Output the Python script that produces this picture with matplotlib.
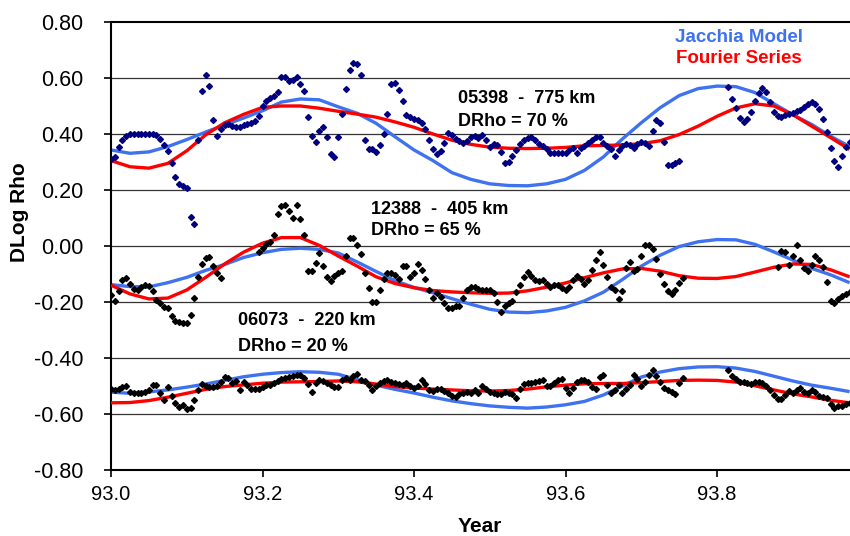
import numpy as np
import matplotlib
matplotlib.use("Agg")
import matplotlib.pyplot as plt

plt.rcParams['font.family'] = ['Liberation Sans', 'DejaVu Sans']

nan = np.nan

# daily-ish density samples, one value every 0.005 yr from 93.000
year = np.round(93.0 + 0.005 * np.arange(196), 3)

sat_05398 = [
    0.310, 0.318, 0.355, 0.380, 0.393, 0.400, 0.400, 0.400, 0.400, 0.400,
    0.400, 0.400, 0.395, 0.383, 0.360, 0.340, 0.296, 0.245, 0.220, 0.214,
    0.207, 0.104, 0.080, 0.380, 0.555, 0.610, 0.570, 0.450, 0.392, 0.418,
    0.432, 0.435, 0.429, 0.425, 0.426, 0.432, 0.436, 0.440, 0.445, 0.465,
    0.500, 0.518, 0.528, 0.537, 0.550, 0.605, 0.603, 0.590, 0.592, 0.604,
    0.580, 0.555, 0.461, 0.392, 0.370, 0.410, 0.425, 0.390, 0.330, 0.318,
    0.390, 0.470, 0.560, 0.630, 0.654, 0.650, 0.610, 0.380, 0.345, 0.346,
    0.337, 0.360, 0.400, 0.470, 0.580, 0.583, 0.558, 0.518, 0.468, 0.459,
    0.455, 0.451, 0.440, 0.418, 0.380, 0.345, 0.330, 0.340, 0.367, 0.402,
    0.396, 0.383, 0.375, 0.368, 0.374, 0.390, 0.392, 0.385, 0.396, 0.380,
    0.355, 0.364, 0.360, 0.335, 0.298, 0.300, 0.320, 0.343, 0.363, 0.377,
    0.387, 0.388, 0.378, 0.366, 0.356, 0.345, 0.332, 0.333, 0.331, 0.333,
    0.333, 0.342, 0.350, 0.333, 0.350, 0.357, 0.368, 0.378, 0.388, 0.390,
    0.368, 0.357, 0.345, 0.322, 0.343, 0.356, 0.365, 0.362, 0.350, 0.366,
    0.373, 0.369, 0.356, 0.410, 0.450, 0.440, 0.370, 0.290, 0.289, 0.298,
    0.303, nan, nan, nan, nan, nan, nan, nan, nan, nan,
    nan, nan, nan, 0.568, 0.525, 0.492, 0.458, 0.442, 0.452, 0.480,
    0.518, 0.545, 0.565, 0.550, 0.515, 0.480, 0.463, 0.462, 0.468, 0.472,
    0.475, 0.481, 0.486, 0.495, 0.508, 0.515, 0.508, 0.490, 0.452, 0.407,
    0.350, 0.305, 0.282, 0.322, 0.355, 0.373,
]

sat_12388 = [
    -0.175, -0.198, -0.160, -0.120, -0.115, -0.135, -0.152, -0.158, -0.147, -0.139,
    -0.142, -0.160, -0.192, -0.205, -0.217, -0.222, -0.250, -0.269, -0.271, -0.275,
    -0.276, -0.245, -0.185, -0.110, -0.066, -0.043, -0.038, -0.070, -0.098, -0.115,
    nan, nan, nan, nan, nan, nan, nan, nan, nan, -0.020,
    -0.008, 0.008, 0.016, 0.040, 0.115, 0.143, 0.147, 0.125, 0.100, 0.146,
    0.097, 0.040, -0.090, -0.090, -0.060, -0.024, -0.073, -0.110, -0.124, -0.106,
    -0.096, -0.090, -0.035, 0.028, 0.029, 0.005, -0.030, -0.095, -0.150, -0.200,
    -0.199, -0.158, -0.118, -0.098, -0.096, -0.104, -0.118, -0.070, -0.070, -0.110,
    -0.098, -0.066, -0.086, -0.118, -0.156, -0.186, -0.169, -0.183, -0.205, -0.222,
    -0.220, -0.215, -0.215, -0.187, -0.158, -0.148, -0.145, -0.152, -0.157, -0.156,
    -0.156, -0.168, -0.200, -0.236, -0.215, -0.202, -0.198, -0.165, -0.138, -0.109,
    -0.093, -0.106, -0.121, -0.125, -0.123, -0.137, -0.146, -0.139, -0.140, -0.149,
    -0.156, -0.145, -0.120, -0.108, -0.119, -0.134, -0.122, -0.087, -0.050, -0.022,
    -0.068, -0.110, -0.148, -0.158, -0.190, -0.159, -0.077, -0.058, -0.088, -0.082,
    -0.035, 0.004, 0.003, -0.012, -0.046, -0.100, -0.137, -0.160, -0.170, -0.157,
    -0.133, -0.115, nan, nan, nan, nan, nan, nan, nan, nan,
    nan, nan, nan, nan, nan, nan, nan, nan, nan, nan,
    nan, nan, nan, nan, nan, nan, -0.075, -0.018, -0.022, -0.068,
    -0.035, 0.002, -0.050, -0.078, -0.090, -0.068, -0.037, -0.050, -0.075, -0.130,
    -0.195, -0.202, -0.190, -0.180, -0.171, -0.166,
]

sat_06073 = [
    -0.512, -0.514, -0.512, -0.504, -0.501, -0.521, -0.524, -0.524, -0.524, -0.523,
    -0.513, -0.496, -0.498, -0.525, -0.549, -0.505, -0.537, -0.561, -0.575, -0.569,
    -0.581, -0.577, -0.550, -0.514, -0.494, -0.500, -0.502, -0.505, -0.499, -0.485,
    -0.468, -0.473, -0.490, -0.482, -0.515, -0.484, -0.495, -0.509, -0.512, -0.510,
    -0.502, -0.498, -0.495, -0.488, -0.483, -0.476, -0.473, -0.469, -0.466, -0.461,
    -0.459, -0.470, -0.493, -0.520, -0.489, -0.480, -0.481, -0.488, -0.497, -0.504,
    -0.505, -0.480, -0.470, -0.478, -0.463, -0.457, -0.477, -0.482, -0.497, -0.515,
    -0.501, -0.489, -0.482, -0.480, -0.485, -0.490, -0.493, -0.495, -0.491, -0.500,
    -0.507, -0.499, -0.479, -0.492, -0.514, -0.519, -0.512, -0.510, -0.517, -0.524,
    -0.534, -0.539, -0.530, -0.525, -0.523, -0.524, -0.515, -0.526, -0.500, -0.511,
    -0.520, -0.525, -0.529, -0.529, -0.520, -0.525, -0.529, -0.543, -0.511, -0.493,
    -0.491, -0.488, -0.487, -0.482, -0.480, -0.500, -0.501, -0.491, -0.479, -0.475,
    -0.508, -0.526, -0.507, -0.487, -0.480, -0.480, -0.486, -0.505, -0.510, -0.468,
    -0.460, -0.496, -0.525, -0.514, -0.497, -0.525, -0.511, -0.496, -0.462, -0.475,
    -0.500, -0.486, -0.460, -0.442, -0.464, -0.487, -0.506, -0.514, -0.520, -0.530,
    -0.490, -0.472, nan, nan, nan, nan, nan, nan, nan, nan,
    nan, nan, nan, -0.443, -0.465, -0.475, -0.484, -0.487, -0.490, -0.493,
    -0.486, -0.485, -0.488, -0.500, -0.514, -0.532, -0.545, -0.548, -0.532, -0.518,
    -0.524, -0.515, -0.508, -0.520, -0.525, -0.514, -0.522, -0.534, -0.539, -0.543,
    -0.566, -0.580, -0.573, -0.570, -0.565, -0.560,
]

# model curves, one value every 0.025 yr
curve_year = np.round(93.0 + 0.025 * np.arange(40), 3)

jacchia_05398 = [
    0.343, 0.331, 0.336, 0.355, 0.380, 0.407, 0.432, 0.457, 0.483, 0.514,
    0.525, 0.522, 0.497, 0.474, 0.438, 0.390, 0.343, 0.305, 0.262, 0.238,
    0.222, 0.216, 0.215, 0.222, 0.238, 0.270, 0.318, 0.382, 0.440, 0.494,
    0.537, 0.562, 0.571, 0.569, 0.548, 0.508, 0.469, 0.434, 0.392, 0.355,
]
fourier_05398 = [
    0.305, 0.283, 0.278, 0.295, 0.340, 0.397, 0.440, 0.470, 0.495, 0.500,
    0.500, 0.492, 0.481, 0.471, 0.460, 0.443, 0.424, 0.400, 0.378, 0.363,
    0.353, 0.349, 0.348, 0.349, 0.352, 0.358, 0.359, 0.361, 0.365, 0.376,
    0.398, 0.428, 0.463, 0.493, 0.508, 0.500, 0.469, 0.428, 0.387, 0.345,
]
jacchia_12388 = [
    -0.138, -0.145, -0.146, -0.131, -0.112, -0.087, -0.066, -0.041, -0.024, -0.012,
    -0.008, -0.012, -0.025, -0.057, -0.091, -0.124, -0.148, -0.167, -0.188, -0.208,
    -0.226, -0.236, -0.238, -0.232, -0.219, -0.196, -0.165, -0.120, -0.072, -0.033,
    -0.002, 0.015, 0.023, 0.022, 0.006, -0.021, -0.050, -0.080, -0.103, -0.131,
]
fourier_12388 = [
    -0.140, -0.171, -0.189, -0.186, -0.157, -0.112, -0.064, -0.022, 0.010, 0.030,
    0.030, 0.002, -0.036, -0.072, -0.110, -0.134, -0.149, -0.159, -0.164, -0.167,
    -0.169, -0.168, -0.160, -0.147, -0.132, -0.113, -0.096, -0.082, -0.080, -0.090,
    -0.106, -0.115, -0.116, -0.109, -0.093, -0.076, -0.064, -0.066, -0.085, -0.110,
]
jacchia_06073 = [
    -0.522, -0.526, -0.521, -0.514, -0.504, -0.493, -0.480, -0.467, -0.458, -0.452,
    -0.449, -0.451, -0.458, -0.477, -0.497, -0.512, -0.525, -0.540, -0.553, -0.563,
    -0.571, -0.576, -0.579, -0.575, -0.567, -0.555, -0.532, -0.500, -0.468, -0.450,
    -0.438, -0.432, -0.431, -0.436, -0.448, -0.465, -0.482, -0.497, -0.508, -0.520,
]
fourier_06073 = [
    -0.560, -0.559, -0.552, -0.540, -0.526, -0.512, -0.502, -0.496, -0.490, -0.486,
    -0.485, -0.484, -0.482, -0.485, -0.493, -0.502, -0.507, -0.511, -0.514, -0.517,
    -0.518, -0.516, -0.511, -0.503, -0.497, -0.492, -0.491, -0.491, -0.488, -0.484,
    -0.480, -0.479, -0.480, -0.486, -0.499, -0.514, -0.528, -0.539, -0.551, -0.560,
]

labels = [("05398  -  775 km", "DRho = 70 %"),
          ("12388  -  405 km", "DRho = 65 %"),
          ("06073  -  220 km", "DRho = 20 %")]

x_ticks = [93.0, 93.2, 93.4, 93.6, 93.8]
x_ticklabels = ["93.0", "93.2", "93.4", "93.6", "93.8"]
y_ticks = [-0.8, -0.6, -0.4, -0.2, 0.0, 0.2, 0.4, 0.6, 0.8]
y_ticklabels = ["-0.80", "-0.60", "-0.40", "-0.20", "0.00", "0.20", "0.40", "0.60", "0.80"]

blue = "#3f72ef"
red = "#ff0000"

fig = plt.figure(figsize=(8.5, 5.36), dpi=100)
ax = fig.add_axes([0.1306, 0.1231, 0.8689, 0.8359])

for yy in y_ticks[1:-1]:
    ax.axhline(yy, color="#333333", lw=0.9, zorder=1)

for jac, fou in [(jacchia_05398, fourier_05398),
                 (jacchia_12388, fourier_12388),
                 (jacchia_06073, fourier_06073)]:
    ax.plot(curve_year, jac, color=blue, lw=2.4, zorder=2, solid_capstyle="butt")
    ax.plot(curve_year, fou, color=red, lw=2.4, zorder=3, solid_capstyle="butt")

ax.plot(year, sat_05398, ls="none", marker="D", ms=3.0, color="#000080", mec="#000080", zorder=4)
ax.plot(year, sat_12388, ls="none", marker="D", ms=3.0, color="black", zorder=4)
ax.plot(year, sat_06073, ls="none", marker="D", ms=3.0, color="black", zorder=4)

bold = dict(fontsize=13, fontweight="bold", va="center", ha="left")
ax.text(93.458, 0.525, labels[0][0], **bold)
ax.text(93.458, 0.446, labels[0][1], **bold)
ax.text(93.343, 0.129, labels[1][0], **bold)
ax.text(93.343, 0.054, labels[1][1], **bold)
ax.text(93.167, -0.266, labels[2][0], **bold)
ax.text(93.167, -0.359, labels[2][1], **bold)

ax.text(93.829, 0.746, "Jacchia Model", color=blue, fontsize=13.5,
        fontweight="bold", ha="center", va="center")
ax.text(93.829, 0.670, "Fourier Series", color=red, fontsize=13.5,
        fontweight="bold", ha="center", va="center")

ax.set_xlim(93.0, 93.975)
ax.set_ylim(-0.8, 0.8)
ax.set_xticks(x_ticks)
ax.set_xticklabels(x_ticklabels)
ax.set_yticks(y_ticks)
ax.set_yticklabels(y_ticklabels)
ax.tick_params(axis="both", direction="out", length=5, width=1.2,
               labelsize=14.5, colors="black")
ax.tick_params(axis="y", labelsize=15.5, pad=15)
ax.tick_params(axis="x", pad=6)

for side in ["left", "bottom", "top"]:
    ax.spines[side].set_linewidth(1.5)
    ax.spines[side].set_color("black")
ax.spines["right"].set_visible(False)

ax.set_xlabel("Year", fontsize=15, fontweight="bold", labelpad=9)
ax.set_ylabel("DLog Rho", fontsize=15, fontweight="bold")
ax.yaxis.set_label_coords(-0.111, 0.576)

fig.savefig("out.png", dpi=100)
